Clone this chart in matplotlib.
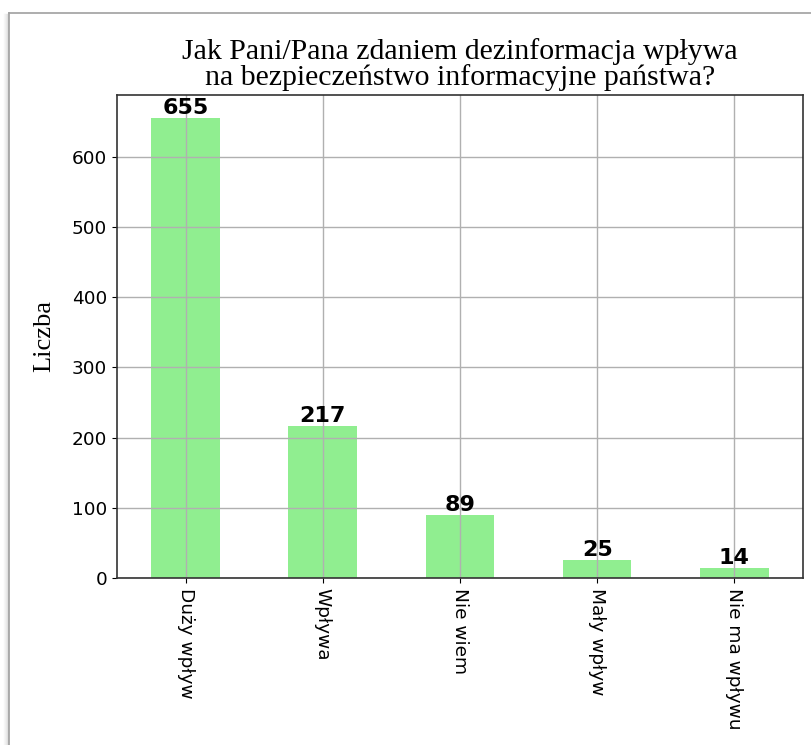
import matplotlib
matplotlib.use('Agg')
import matplotlib.pyplot as plt
from matplotlib.lines import Line2D

categories = ['Duży wpływ', 'Wpływa', 'Nie wiem', 'Mały wpływ', 'Nie ma wpływu']
counts = [655, 217, 89, 25, 14]

fig = plt.figure(figsize=(8.11, 7.45), dpi=100)
ax = fig.add_axes([0.1443, 0.2242, 0.8457, 0.6483])

x = range(len(categories))
bars = ax.bar(x, counts, width=0.5, color='lightgreen')
ax.set_xlim(-0.5, len(categories) - 0.5)
ax.set_ylim(0, max(counts) * 1.05)
ax.set_xticks(list(x))
ax.set_xticklabels(categories, rotation=-90, fontsize=13.3)
ax.tick_params(axis='y', labelsize=13.3)
ax.grid(True, color='#b0b0b0', linewidth=1.0)
for s in ax.spines.values():
    s.set_color('#333333')
    s.set_linewidth(1.2)

# etykiety nad słupkami
for b, v in zip(bars, counts):
    ax.text(b.get_x() + b.get_width() / 2, v, str(v), ha='center', va='bottom',
            fontsize=16, fontweight='bold')

ax.set_title('Jak Pani/Pana zdaniem dezinformacja wpływa\nna bezpieczeństwo informacyjne państwa?',
             family='Liberation Serif', fontsize=21.5, linespacing=0.98, pad=7)
ax.set_ylabel('Liczba', family='Liberation Serif', fontsize=19, labelpad=12)

# ramka zrzutu ekranu z cieniem
for i, a in enumerate([0.05, 0.08, 0.12, 0.18, 0.25]):
    xx = (4 + i) / 811
    fig.add_artist(Line2D([xx, xx], [0, 1 - 14 / 745], transform=fig.transFigure,
                          color='gray', alpha=a, linewidth=1))
fig.add_artist(Line2D([9 / 811, 9 / 811], [0, 1 - 13 / 745], transform=fig.transFigure,
                      color='#a0a0a0', linewidth=1.2))
fig.add_artist(Line2D([9 / 811, 1], [1 - 13 / 745, 1 - 13 / 745], transform=fig.transFigure,
                      color='#a0a0a0', linewidth=1.2))

fig.savefig('out.png', dpi=100)
